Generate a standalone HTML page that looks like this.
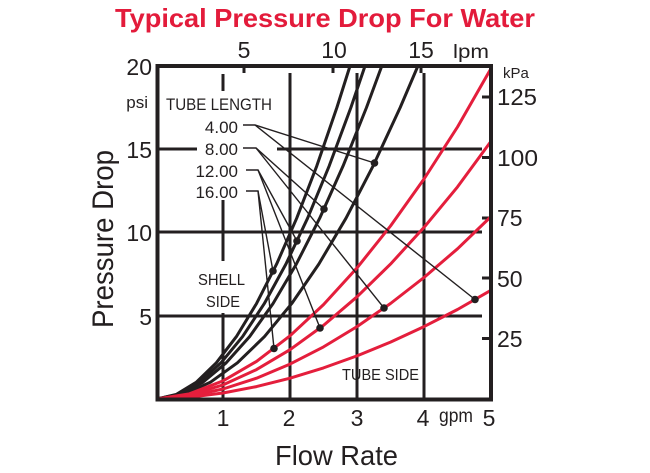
<!DOCTYPE html>
<html>
<head>
<meta charset="utf-8">
<style>
  html, body { margin:0; padding:0; background:#fff; }
  svg { display:block; }
  text { font-family: "Liberation Sans", sans-serif; fill:#231f20; }
</style>
</head>
<body>
<svg width="650" height="473" viewBox="0 0 650 473" xmlns="http://www.w3.org/2000/svg">
  <rect width="650" height="473" fill="#fff"/>

  <!-- Title -->
  <text x="115" y="27" font-size="26" font-weight="bold" style="fill:#e31b3b" textLength="420" lengthAdjust="spacingAndGlyphs">Typical Pressure Drop For Water</text>

  <!-- grid lines -->
  <g stroke="#231f20" stroke-width="3" fill="none">
    <line x1="157" y1="149" x2="197" y2="149"/>
    <line x1="277" y1="149" x2="482" y2="149"/>
    <line x1="157" y1="232" x2="482" y2="232"/>
    <line x1="157" y1="316" x2="482" y2="316"/>
    <line x1="223" y1="74" x2="223" y2="91"/>
    <line x1="223" y1="200" x2="223" y2="261"/>
    <line x1="223" y1="313" x2="223" y2="399"/>
    <line x1="290" y1="73" x2="290" y2="399"/>
    <line x1="357" y1="73" x2="357" y2="399"/>
    <line x1="424" y1="73" x2="424" y2="399"/>
    <!-- top lpm ticks -->
    <line x1="244" y1="66" x2="244" y2="73"/>
    <line x1="333" y1="66" x2="333" y2="73"/>
    <line x1="421" y1="66" x2="421" y2="73"/>
    <!-- right kPa ticks -->
    <line x1="482" y1="97" x2="491" y2="97"/>
    <line x1="482" y1="157.5" x2="491" y2="157.5"/>
    <line x1="482" y1="218" x2="491" y2="218"/>
    <line x1="482" y1="278" x2="491" y2="278"/>
    <line x1="482" y1="338.5" x2="491" y2="338.5"/>
  </g>

  <!-- black (shell side) curves -->
  <g stroke="#231f20" stroke-width="3" fill="none" stroke-linejoin="round" stroke-linecap="round">
    <polyline points="157,399 176.1,394.5 196.2,382.3 216.3,362.8 236.4,336.6 256.5,303.6 276.6,264.1 296.7,218.2 316.8,165.9 336.9,107.5 350,66"/>
    <polyline points="157,399 177.7,394.5 199.3,382.3 221,362.8 242.6,336.6 264.3,303.6 285.9,264.1 307.6,218.2 329.2,165.9 350.9,107.5 365,66"/>
    <polyline points="157,399 179.4,394.5 202.8,382.3 226.2,362.8 249.6,336.6 273,303.6 296.3,264.1 319.7,218.2 343.1,165.9 366.5,107.5 381.8,66"/>
    <polyline points="157,399 183.1,394.5 210.3,382.3 237.4,362.8 264.5,336.6 291.7,303.6 318.8,264.1 346,218.2 373.1,165.9 400.2,107.5 417.9,66"/>
  </g>

  <!-- red (tube side) curves -->
  <g stroke="#e41e3c" stroke-width="3" fill="none" stroke-linejoin="round" stroke-linecap="round">
    <polyline points="157,399 189.5,393.8 223,380.9 256.5,361.4 290,335.8 323.5,304.6 357,267.9 390.5,226 424,179 457.5,127 490,70.2"/>
    <polyline points="157,399 189.5,394.9 223,384.9 256.5,369.6 290,349.7 323.5,325.4 357,296.8 390.5,264.1 424,227.4 457.5,186.9 490,142.6"/>
    <polyline points="157,399 189.5,396.1 223,389 256.5,378.2 290,364.1 323.5,346.9 357,326.6 390.5,303.5 424,277.5 457.5,248.8 490,217.5"/>
    <polyline points="157,399 189.5,397.3 223,393 256.5,386.6 290,378.2 323.5,367.9 357,355.9 390.5,342.1 424,326.6 457.5,309.5 490,290.8"/>
  </g>

  <!-- plot border -->
  <rect x="157.5" y="66" width="333.5" height="333.5" fill="none" stroke="#231f20" stroke-width="4"/>

  <!-- leader lines -->
  <g stroke="#231f20" stroke-width="1.4" fill="none">
    <polyline points="243,125 255,125 374.5,163"/>
    <line x1="255" y1="125" x2="475" y2="299.5"/>
    <polyline points="243,148 256,148 324,209"/>
    <line x1="256" y1="148" x2="384" y2="308"/>
    <polyline points="246,170 258,170 297,241"/>
    <line x1="258" y1="170" x2="320" y2="328"/>
    <polyline points="246,191 258,191 273,271"/>
    <line x1="258" y1="191" x2="274" y2="348.5"/>
  </g>
  <g fill="#231f20">
    <circle cx="374.5" cy="163" r="3.8"/>
    <circle cx="475" cy="299.5" r="3.8"/>
    <circle cx="324" cy="209" r="3.8"/>
    <circle cx="384" cy="308" r="3.8"/>
    <circle cx="297" cy="241" r="3.8"/>
    <circle cx="320" cy="328" r="3.8"/>
    <circle cx="273" cy="271" r="3.8"/>
    <circle cx="274" cy="348.5" r="3.8"/>
  </g>

  <!-- top axis labels -->
  <text x="244" y="58" font-size="23" text-anchor="middle">5</text>
  <text x="334" y="58" font-size="23" text-anchor="middle">10</text>
  <text x="421" y="58" font-size="23" text-anchor="middle">15</text>
  <text x="453" y="58" font-size="19" textLength="36" lengthAdjust="spacingAndGlyphs">lpm</text>

  <!-- left axis labels -->
  <text x="152" y="75" font-size="23" text-anchor="end">20</text>
  <text x="148" y="108" font-size="17" text-anchor="end">psi</text>
  <text x="152" y="158" font-size="23" text-anchor="end">15</text>
  <text x="152" y="241" font-size="23" text-anchor="end">10</text>
  <text x="152" y="325" font-size="23" text-anchor="end">5</text>
  <text transform="translate(113,239) rotate(-90)" font-size="30" text-anchor="middle" textLength="178" lengthAdjust="spacingAndGlyphs">Pressure Drop</text>

  <!-- right axis labels -->
  <text x="503" y="78" font-size="15">kPa</text>
  <text x="497" y="105" font-size="23" textLength="40" lengthAdjust="spacingAndGlyphs">125</text>
  <text x="497" y="166" font-size="23" textLength="41" lengthAdjust="spacingAndGlyphs">100</text>
  <text x="497" y="226" font-size="23">75</text>
  <text x="497" y="287" font-size="23">50</text>
  <text x="497" y="347" font-size="23">25</text>

  <!-- bottom axis labels -->
  <text x="223" y="426" font-size="23" text-anchor="middle">1</text>
  <text x="289" y="426" font-size="23" text-anchor="middle">2</text>
  <text x="357" y="426" font-size="23" text-anchor="middle">3</text>
  <text x="423" y="426" font-size="23" text-anchor="middle">4</text>
  <text x="439" y="422" font-size="19" textLength="34" lengthAdjust="spacingAndGlyphs">gpm</text>
  <text x="489" y="426" font-size="23" text-anchor="middle">5</text>
  <text x="275" y="465" font-size="28" textLength="123" lengthAdjust="spacingAndGlyphs">Flow Rate</text>

  <!-- in-plot labels -->
  <text x="166" y="110" font-size="17" textLength="106" lengthAdjust="spacingAndGlyphs">TUBE LENGTH</text>
  <text x="238" y="133" font-size="17" text-anchor="end">4.00</text>
  <text x="238" y="155" font-size="17" text-anchor="end">8.00</text>
  <text x="238" y="177" font-size="17" text-anchor="end">12.00</text>
  <text x="238" y="198" font-size="17" text-anchor="end">16.00</text>
  <text x="198" y="285" font-size="16" textLength="47" lengthAdjust="spacingAndGlyphs">SHELL</text>
  <text x="206" y="307" font-size="16" textLength="34" lengthAdjust="spacingAndGlyphs">SIDE</text>
  <text x="342" y="380" font-size="16" textLength="77" lengthAdjust="spacingAndGlyphs">TUBE SIDE</text>
</svg>
</body>
</html>
